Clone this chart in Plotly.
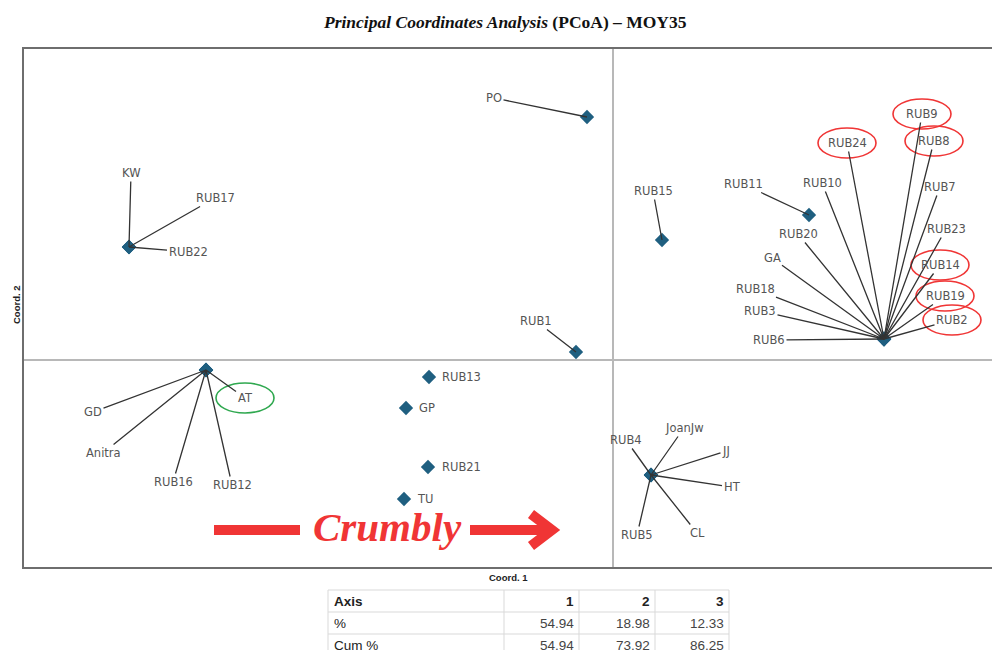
import plotly.graph_objects as go

# PCoA scores (coordinate 1 / coordinate 2) for each sample
samples = ["PO", "KW", "RUB17", "RUB22", "RUB15", "RUB11", "RUB1",
           "RUB9", "RUB24", "RUB8", "RUB10", "RUB7", "RUB20", "RUB23", "GA",
           "RUB14", "RUB18", "RUB19", "RUB3", "RUB2", "RUB6",
           "AT", "GD", "Anitra", "RUB16", "RUB12",
           "RUB13", "GP", "RUB21", "TU",
           "RUB4", "JoanJw", "JJ", "HT", "CL", "RUB5"]
coord1 = [-0.026, -0.484, -0.484, -0.484, 0.049, 0.196, -0.037,
          0.271, 0.271, 0.271, 0.271, 0.271, 0.271, 0.271, 0.271,
          0.271, 0.271, 0.271, 0.271, 0.271, 0.271,
          -0.407, -0.407, -0.407, -0.407, -0.407,
          -0.184, -0.207, -0.185, -0.209,
          0.038, 0.038, 0.038, 0.038, 0.038, 0.038]
coord2 = [0.243, 0.113, 0.113, 0.113, 0.120, 0.145, 0.008,
          0.021, 0.021, 0.021, 0.021, 0.021, 0.021, 0.021, 0.021,
          0.021, 0.021, 0.021, 0.021, 0.021, 0.021,
          -0.010, -0.010, -0.010, -0.010, -0.010,
          -0.017, -0.048, -0.107, -0.139,
          -0.115, -0.115, -0.115, -0.115, -0.115, -0.115]

# eigenvalue table
table_axis = ["Axis", "%", "Cum %"]
pct_1 = ["1", "54.94", "54.94"]
pct_2 = ["2", "18.98", "73.92"]
pct_3 = ["3", "12.33", "86.25"]

# label placement (pixel offsets from the point, y down) -- layout only
label_dx = [-93, 2, 86, 59, -9, -66, -40,
            38, -37, 50, -62, 56, -86, 62, -112,
            56, -129, 61, -124, 68, -115,
            39, -113, -103, -33, 26,
            32, 21, 33, 21,
            -25, 33, 75, 81, 46, -14]
label_dy = [-19, -74, -49, 5, -49, -31, -31,
            -225, -196, -198, -156, -152, -105, -110, -81,
            -74, -50, -43, -28, -19, 1,
            28, 42, 83, 112, 115,
            0, 0, 0, 0,
            -35, -47, -24, 12, 58, 60]
no_leader = {"RUB13", "GP", "RUB21", "TU"}
circled_red = ["RUB9", "RUB24", "RUB8", "RUB14", "RUB19", "RUB2"]
circled_green = ["AT"]

W, H = 992, 650
PX0, PX1, PY0, PY1 = 24, 992, 49, 567


def px(x):
    return x / W


def py(y):
    return 1 - y / H


MARKER = "#1f5f80"
LINE = "#6e6e6e"
RED = "#f03535"
LABEL_FONT = dict(family="DejaVu Sans", size=11.5, color="#555")

fig = go.Figure()
fig.add_trace(go.Scatter(
    x=coord1, y=coord2, mode="markers",
    marker=dict(symbol="diamond", size=11, color=MARKER),
    hovertext=samples, showlegend=False, cliponaxis=False,
))

for name, x, y, dx, dy in zip(samples, coord1, coord2, label_dx, label_dy):
    if name in no_leader:
        fig.add_annotation(x=x, y=y, text=name, showarrow=False, xshift=dx, yshift=-dy,
                           font=LABEL_FONT)
    else:
        fig.add_annotation(x=x, y=y, text=name, showarrow=True, ax=dx, ay=dy,
                           arrowhead=0, arrowwidth=1.3, arrowcolor="#333", font=LABEL_FONT)
    if name in circled_red or name in circled_green:
        col = RED if name in circled_red else "#2fa84f"
        fig.add_shape(type="circle", xref="x", yref="y", xsizemode="pixel", ysizemode="pixel",
                      xanchor=x, yanchor=y, x0=dx - 29, x1=dx + 29, y0=-dy - 15, y1=-dy + 15,
                      line=dict(color=col, width=1.6))

# eigenvalue table drawn as a grid (rows 22px tall, starting at y=590)
col_edges = [328, 504, 579, 655, 729]
row_top, row_h = 590, 22
grid = dict(color="#d9d9d9", width=1)
for r in range(4):
    yy = row_top + r * row_h
    fig.add_shape(type="line", xref="paper", yref="paper", x0=px(col_edges[0]), x1=px(col_edges[-1]),
                  y0=py(yy), y1=py(yy), line=grid)
for cx in col_edges:
    fig.add_shape(type="line", xref="paper", yref="paper", x0=px(cx), x1=px(cx),
                  y0=py(row_top), y1=0, line=grid)
for r, row in enumerate(zip(table_axis, pct_1, pct_2, pct_3)):
    yc = row_top + r * row_h + row_h / 2
    for c, val in enumerate(row):
        txt = f"<b>{val}</b>" if r == 0 else val
        if c == 0:
            fig.add_annotation(xref="paper", yref="paper", x=px(col_edges[0] + 4), y=py(yc),
                               xanchor="left", yanchor="middle", text=txt, showarrow=False,
                               font=dict(family="Liberation Sans", size=13.5, color="#222"))
        else:
            fig.add_annotation(xref="paper", yref="paper", x=px(col_edges[c + 1] - 3), y=py(yc),
                               xanchor="right", yanchor="middle", text=txt, showarrow=False,
                               font=dict(family="Liberation Sans", size=13.5,
                                         color="#222" if r == 0 else "#444"))

# "Crumbly" arrow
fig.add_shape(type="line", xref="paper", yref="paper", x0=px(214), x1=px(300), y0=py(530), y1=py(530),
              line=dict(color=RED, width=10))
fig.add_shape(type="line", xref="paper", yref="paper", x0=px(470), x1=px(548), y0=py(530), y1=py(530),
              line=dict(color=RED, width=10))
fig.add_shape(type="path", xref="paper", yref="paper",
              path=f"M {px(531)} {py(514)} L {px(552)} {py(530)} L {px(531)} {py(546)}",
              line=dict(color=RED, width=10))
fig.add_annotation(xref="paper", yref="paper", x=px(387), y=py(527), xanchor="center", yanchor="middle",
                   text="<b><i>Crumbly</i></b>", showarrow=False,
                   font=dict(family="Liberation Serif", size=41, color=RED))

fig.add_annotation(xref="paper", yref="paper", x=px(505), y=py(22), xanchor="center", yanchor="middle",
                   text="<b><i>Principal Coordinates Analysis</i> (PCoA) – MOY35</b>",
                   showarrow=False, font=dict(family="Liberation Serif", size=17.5, color="#111"))
fig.add_annotation(xref="paper", yref="paper", x=px(509), y=py(577), xanchor="center", yanchor="middle",
                   text="<b>Coord. 1</b>", showarrow=False,
                   font=dict(family="Liberation Sans", size=9.5, color="#222"))
fig.add_annotation(xref="paper", yref="paper", x=px(16), y=py(305), xanchor="center", yanchor="middle",
                   text="<b>Coord. 2</b>", textangle=-90, showarrow=False,
                   font=dict(family="Liberation Sans", size=9.5, color="#222"))

fig.update_xaxes(domain=[px(PX0), px(PX1)], range=[-0.589, 0.379], showgrid=False,
                 showticklabels=False, ticks="", zeroline=True, zerolinecolor="#b8b8b8",
                 zerolinewidth=2, showline=True, linecolor=LINE, linewidth=2, mirror=True)
fig.update_yaxes(domain=[py(PY1), py(PY0)], range=[-0.207, 0.311], showgrid=False,
                 showticklabels=False, ticks="", zeroline=True, zerolinecolor="#b8b8b8",
                 zerolinewidth=2, showline=True, linecolor=LINE, linewidth=2)
fig.update_layout(
    width=W, height=H, margin=dict(l=0, r=0, t=0, b=0),
    paper_bgcolor="white", plot_bgcolor="white",
    font=dict(family="Liberation Sans, Arial, sans-serif"),
)
# drop the page's default body margin so the figure fills the 992x650 window
fig.write_html("out.html", config={"displayModeBar": False},
               post_script="document.body.style.margin='0';document.body.style.overflow='hidden';")
